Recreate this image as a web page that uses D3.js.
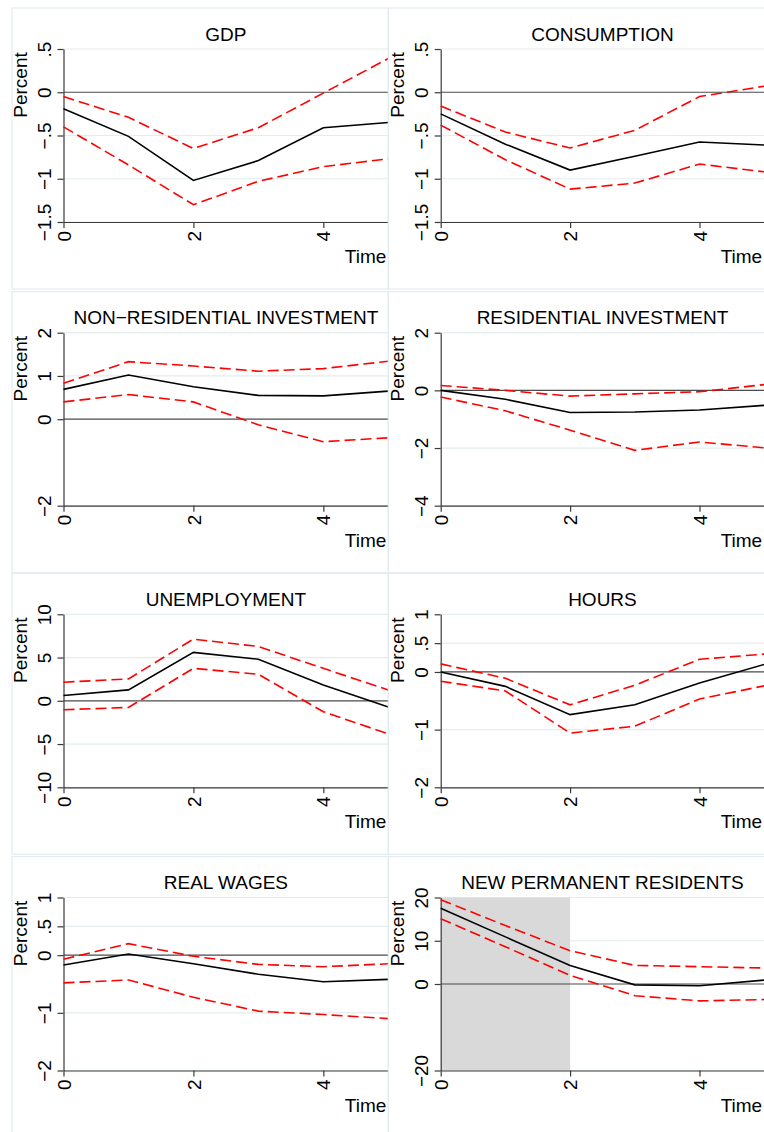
<!DOCTYPE html>
<html>
<head>
<meta charset="utf-8">
<script src="https://cdn.jsdelivr.net/npm/d3@7"></script>
<style>
  html, body { margin: 0; padding: 0; background: #ffffff; }
  svg { display: block; }
  text { font-family: "Liberation Sans", Arial, sans-serif; fill: #000; }
</style>
</head>
<body>
<svg id="chart" width="764" height="1132"></svg>
<script>
// ---------------- DATA ----------------
const periods = [0, 1, 2, 3, 4, 5];
const xTicks = [0, 2, 4];

const titles = ["GDP", "CONSUMPTION", "NON\u2212RESIDENTIAL INVESTMENT", "RESIDENTIAL INVESTMENT",
                "UNEMPLOYMENT", "HOURS", "REAL WAGES", "NEW PERMANENT RESIDENTS"];

const gdpMid   = [-0.19, -0.51, -1.02, -0.79, -0.41, -0.35];
const gdpUpper = [-0.05, -0.29, -0.65, -0.41, -0.01, 0.39];
const gdpLower = [-0.40, -0.84, -1.30, -1.03, -0.86, -0.77];

const consMid   = [-0.25, -0.60, -0.90, -0.74, -0.575, -0.61];
const consUpper = [-0.16, -0.46, -0.645, -0.44, -0.05, 0.07];
const consLower = [-0.38, -0.78, -1.12, -1.05, -0.83, -0.92];

const nriMid   = [0.69, 1.02, 0.75, 0.55, 0.54, 0.65];
const nriUpper = [0.83, 1.33, 1.23, 1.11, 1.17, 1.34];
const nriLower = [0.40, 0.57, 0.40, -0.13, -0.52, -0.43];

const riMid   = [0.0, -0.31, -0.77, -0.75, -0.68, -0.52];
const riUpper = [0.17, 0.0, -0.20, -0.12, -0.05, 0.20];
const riLower = [-0.23, -0.71, -1.38, -2.08, -1.79, -1.99];

const unMid   = [0.61, 1.26, 5.6, 4.8, 1.84, -0.73];
const unUpper = [2.15, 2.53, 7.13, 6.28, 3.75, 1.26];
const unLower = [-1.03, -0.77, 3.75, 3.07, -1.26, -3.83];

const hrMid   = [0.0, -0.25, -0.74, -0.57, -0.19, 0.13];
const hrUpper = [0.14, -0.11, -0.57, -0.23, 0.22, 0.31];
const hrLower = [-0.16, -0.33, -1.06, -0.94, -0.47, -0.24];

const rwMid   = [-0.17, 0.02, -0.15, -0.33, -0.46, -0.42];
const rwUpper = [-0.07, 0.20, -0.02, -0.16, -0.20, -0.15];
const rwLower = [-0.48, -0.43, -0.73, -0.97, -1.03, -1.10];

const nprMid   = [17.5, 10.9, 4.3, -0.2, -0.4, 0.9];
const nprUpper = [19.5, 13.5, 7.7, 4.3, 4.0, 3.7];
const nprLower = [15.1, 8.6, 2.0, -2.7, -3.9, -3.6];

const gdpTicks  = [0.5, 0, -0.5, -1, -1.5];
const consTicks = [0.5, 0, -0.5, -1, -1.5];
const nriTicks  = [2, 1, 0, -2];
const riTicks   = [2, 0, -2, -4];
const unTicks   = [10, 5, 0, -5, -10];
const hrTicks   = [1, 0.5, 0, -1, -2];
const rwTicks   = [1, 0.5, 0, -1, -2];
const nprTicks  = [20, 10, 0, -20];

const nprShade = [0, 2];   // shaded periods in the last panel

const panels = [
  {title: titles[0], mid: gdpMid,  up: gdpUpper,  lo: gdpLower,  ticks: gdpTicks},
  {title: titles[1], mid: consMid, up: consUpper, lo: consLower, ticks: consTicks},
  {title: titles[2], mid: nriMid,  up: nriUpper,  lo: nriLower,  ticks: nriTicks},
  {title: titles[3], mid: riMid,   up: riUpper,   lo: riLower,   ticks: riTicks},
  {title: titles[4], mid: unMid,   up: unUpper,   lo: unLower,   ticks: unTicks},
  {title: titles[5], mid: hrMid,   up: hrUpper,   lo: hrLower,   ticks: hrTicks},
  {title: titles[6], mid: rwMid,   up: rwUpper,   lo: rwLower,   ticks: rwTicks},
  {title: titles[7], mid: nprMid,  up: nprUpper,  lo: nprLower,  ticks: nprTicks, shade: nprShade}
];

// ---------------- LAYOUT ----------------
const colAxisX = [63.5, 440.7];
const colRight = [388.3, 764.2];
const colFrame = [[12, 388.3], [388.3, 800]];
const rowTop = [49, 332.7, 614.3, 897.5];
const plotH = 173;
const fontSize = 19;

const gridColor = "#e3ecee";
const frameColor = "#e3ecee";
const axisColor = "#3a3a3a";

function fmt(v) {
  let s = d3.format("~g")(Math.abs(v));
  if (s.startsWith("0.")) s = s.slice(1);
  return (v < 0 ? "\u2212" : "") + s;
}

const svg = d3.select("#chart");
svg.append("rect").attr("width", 764).attr("height", 1132).attr("fill", "#fff");

panels.forEach((p, i) => {
  const col = i % 2, row = Math.floor(i / 2);
  const x0 = colAxisX[col], x1 = colRight[col];
  const top = rowTop[row], bottom = top + plotH;
  const ext = d3.extent(p.ticks);
  const x = d3.scaleLinear().domain([0, 5]).range([x0, x1]);
  const y = d3.scaleLinear().domain(ext).range([bottom, top]);

  const g = svg.append("g");

  // panel frame
  g.append("rect")
    .attr("x", colFrame[col][0]).attr("y", top - 41)
    .attr("width", colFrame[col][1] - colFrame[col][0]).attr("height", 281)
    .attr("fill", "none").attr("stroke", frameColor).attr("stroke-width", 1.2);

  // gridlines
  g.selectAll(".grid").data(p.ticks.filter(t => t !== 0)).join("line")
    .attr("x1", x0).attr("x2", x1)
    .attr("y1", d => y(d)).attr("y2", d => y(d))
    .attr("stroke", gridColor).attr("stroke-width", 1.2);

  // shading
  if (p.shade) {
    g.append("rect")
      .attr("x", x(p.shade[0])).attr("y", top)
      .attr("width", x(p.shade[1]) - x(p.shade[0])).attr("height", plotH)
      .attr("fill", "#d9d9d9");
  }

  // zero line
  g.append("line")
    .attr("x1", x0).attr("x2", x1).attr("y1", y(0)).attr("y2", y(0))
    .attr("stroke", "#4a4a4a").attr("stroke-width", 1.2);

  // y axis
  const ya = g.append("g").attr("transform", `translate(${x0},0)`)
    .call(d3.axisLeft(y).tickValues(p.ticks).tickFormat(fmt).tickSize(6).tickSizeOuter(0));
  ya.selectAll("path, line").attr("stroke", axisColor).attr("stroke-width", 1.2);
  ya.selectAll("text")
    .attr("transform", "rotate(-90)")
    .attr("x", 0).attr("y", -13).attr("dy", 0)
    .attr("text-anchor", "middle")
    .style("font-size", fontSize + "px")
    .style("font-family", '"Liberation Sans", Arial, sans-serif')
    .attr("fill", "#000");

  // x axis
  const xa = g.append("g").attr("transform", `translate(0,${bottom})`)
    .call(d3.axisBottom(x).tickValues(xTicks).tickFormat(d3.format("d")).tickSize(6).tickSizeOuter(0));
  xa.selectAll("path, line").attr("stroke", axisColor).attr("stroke-width", 1.2);
  xa.selectAll("text")
    .attr("transform", "rotate(-90)")
    .attr("x", -9).attr("y", 0).attr("dy", "0.35em")
    .attr("text-anchor", "end")
    .style("font-size", fontSize + "px")
    .style("font-family", '"Liberation Sans", Arial, sans-serif')
    .attr("fill", "#000");

  // series
  const line = d3.line().x((d, k) => x(periods[k])).y(d => y(d));
  [p.up, p.lo].forEach(s => {
    g.append("path").attr("d", line(s))
      .attr("fill", "none").attr("stroke", "#ff0000").attr("stroke-width", 1.6)
      .attr("stroke-dasharray", "11,5");
  });
  g.append("path").attr("d", line(p.mid))
    .attr("fill", "none").attr("stroke", "#000").attr("stroke-width", 1.6);

  // title
  g.append("text")
    .attr("x", (x0 + x1) / 2).attr("y", top - 8.5)
    .attr("text-anchor", "middle")
    .style("font-size", fontSize + "px")
    .text(p.title);

  // y title
  g.append("text")
    .attr("transform", `translate(${x0 - 37},${top + 36}) rotate(-90)`)
    .attr("text-anchor", "middle")
    .style("font-size", fontSize + "px")
    .text("Percent");

  // x title
  g.append("text")
    .attr("x", x1 - 2).attr("y", bottom + 41)
    .attr("text-anchor", "end")
    .style("font-size", fontSize + "px")
    .text("Time");
});
</script>
</body>
</html>
